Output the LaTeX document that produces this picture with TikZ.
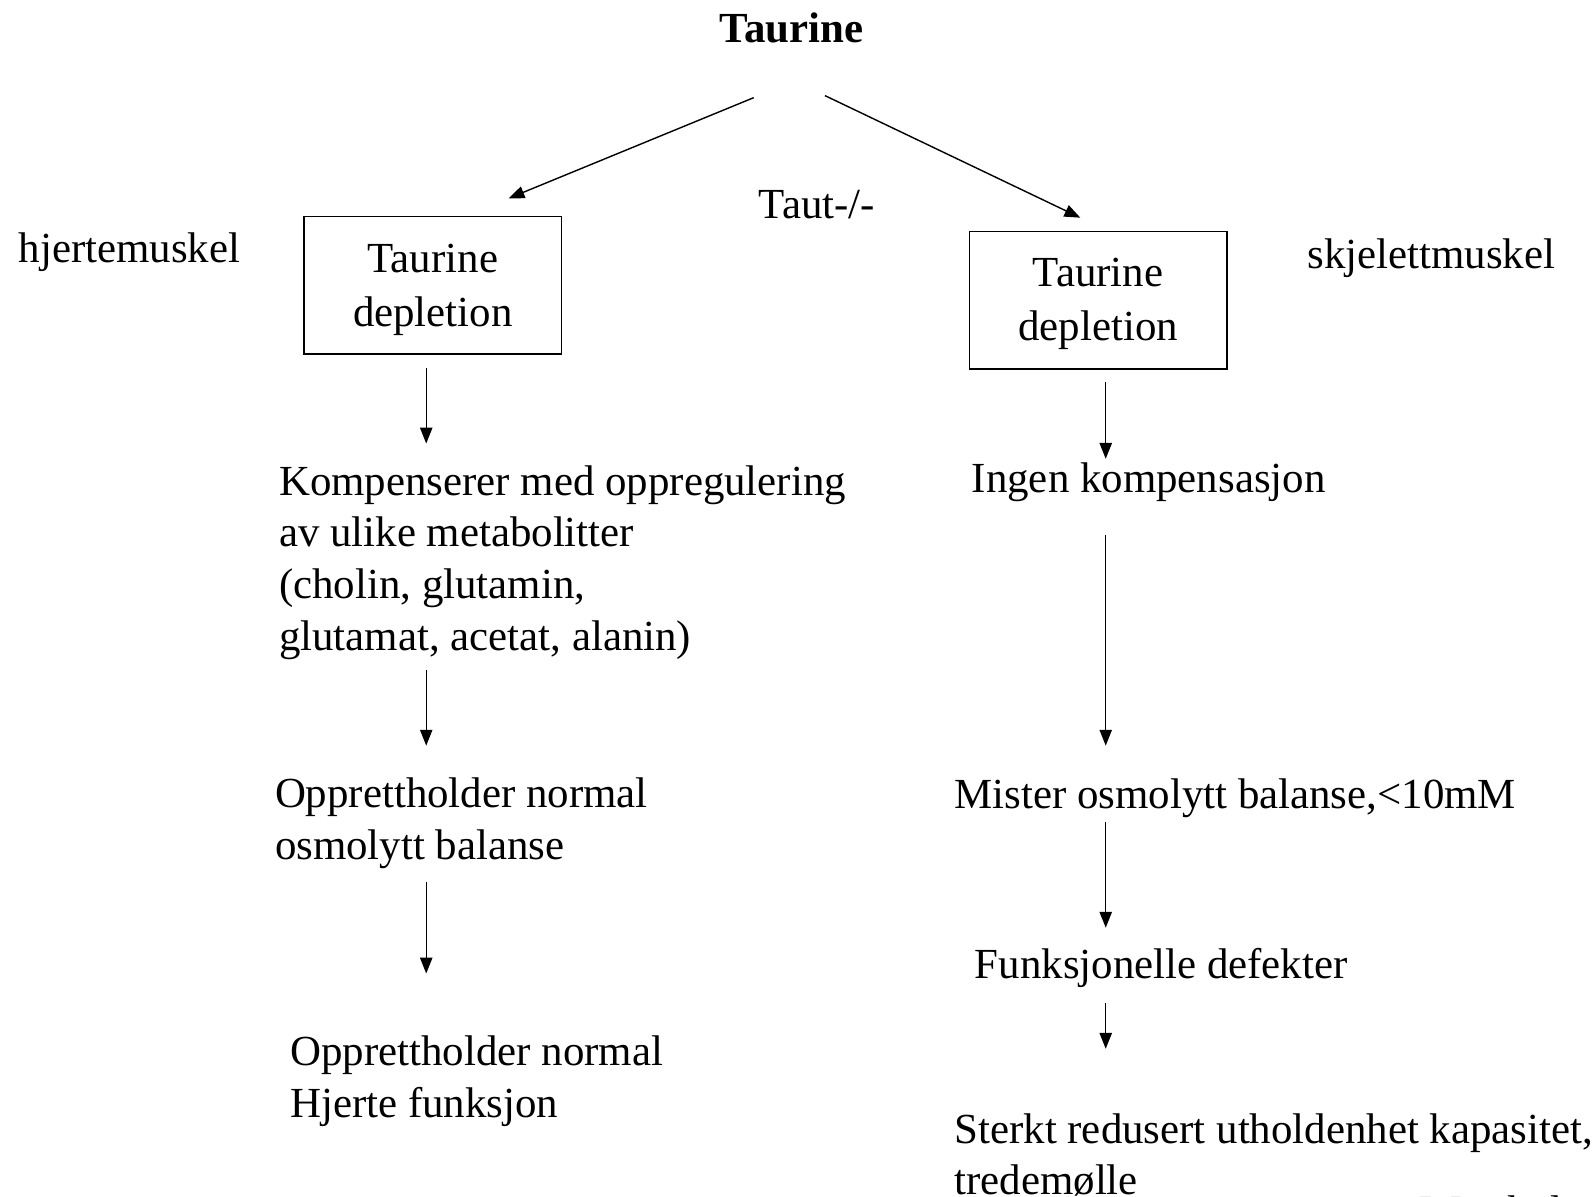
\documentclass[tikz,border=0pt]{standalone}
\usepackage{fontspec}
\setmainfont{Liberation Serif}
\usetikzlibrary{arrows.meta,positioning}
\tikzset{>={Triangle[length=9pt,width=7pt]}}
\tikzset{font=\fontsize{24.4}{29.5}\selectfont}
\tikzset{txt/.style={anchor=west, align=left, inner sep=0pt},
  depbox/.style={draw, thick, minimum width=5.15cm, minimum height=2.75cm,
    inner sep=0pt},
  boxtxt/.style={align=center, inner sep=0pt, yshift=-2.4pt},
  flow/.style={->, thick}}

\begin{document}
\begin{tikzpicture}[x=0.020344cm, y=-0.020344cm]
          \useasboundingbox (0,0) rectangle (1568,1176);
          % top
          \node[inner sep=0pt, font=\fontsize{24.4}{29.5}\selectfont\bfseries] (taurine) at (778,27) {Taurine};
          \node[inner sep=0pt] (taut) at (803,201) {Taut-/-};
          \node[txt] (hjerte) at (18,248) {hjertemuskel};
          \node[txt] (skjelett) at (1285,254) {skjelettmuskel};
          \coordinate (tl) at (741,96);
          \coordinate (tr) at (811,94);
          \coordinate (bl) at (500,195);
          \coordinate (br) at (1062,214);
          \draw[flow] (tl) -- (bl);
          \draw[flow] (tr) -- (br);
          % boxes
          \node[depbox] (depl) at (425.5,280.5) {};
          \node[boxtxt] (depltxt) at (depl.center) {Taurine\\[1.2pt]depletion};
          \node[depbox] (depr) at (1079.5,295) {};
          \node[boxtxt] (deprtxt) at (depr.center) {Taurine\\[1.2pt]depletion};
          % left branch
          \node[txt] (komp) at (274,553) {Kompenserer med oppregulering\\av ulike metabolitter\\(cholin, glutamin,\\glutamat, acetat, alanin)};
          \node[txt] (osml) at (270,809.5) {Opprettholder normal\\osmolytt balanse};
          \node[txt] (hjfunk) at (285,1063) {Opprettholder normal\\Hjerte funksjon};
          \foreach \a/\b in {362/436, 659/733, 867/957}
            \draw[flow] (419,\a) coordinate (l\a) -- (419,\b) coordinate (le\a);
          % right branch
          \node[txt] (ingen) at (955,474) {Ingen kompensasjon};
          \node[txt] (mister) at (938,785) {Mister osmolytt balanse,<10mM};
          \node[txt] (funk) at (958,952) {Funksjonelle defekter};
          \node[txt] (sterkt) at (938,1135.5) {Sterkt redusert utholdenhet kapasitet,\\tredemølle};
          \node[txt] (ref) at (1396,1190) {Warskulat};
          \foreach \a/\b in {376/451, 526/733, 808/912, 986/1031}
            \draw[flow] (1087,\a) coordinate (r\a) -- (1087,\b) coordinate (re\a);
        \end{tikzpicture}
\end{document}
